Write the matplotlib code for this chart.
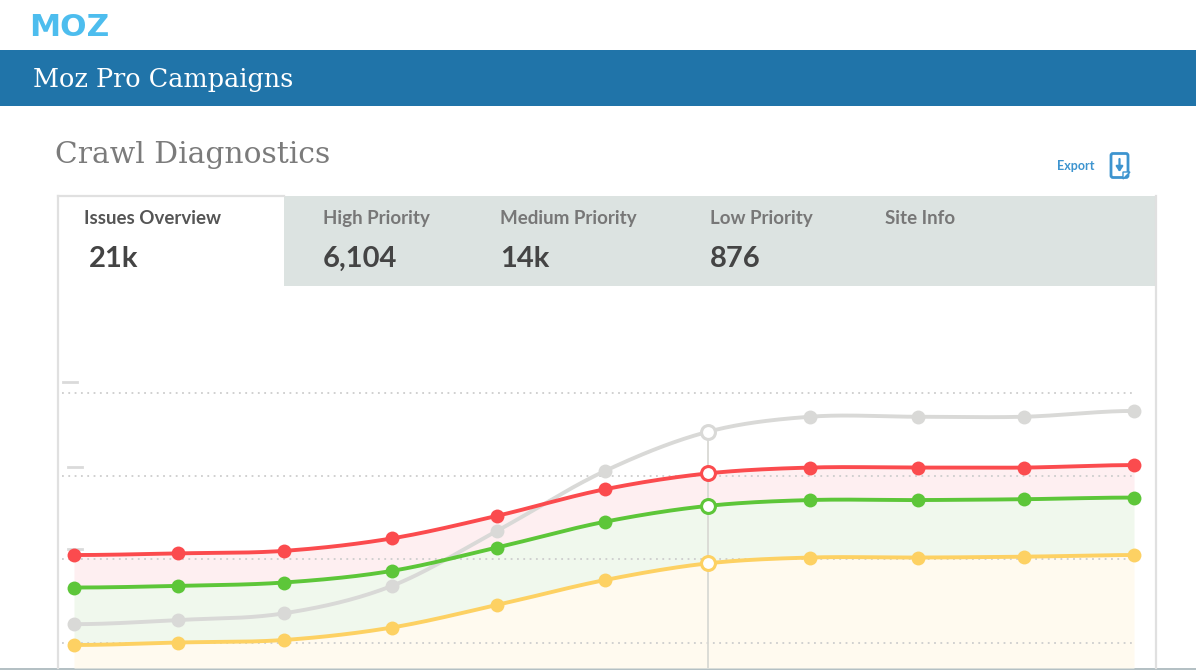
"""
plot.py
-------
Moz Pro Campaigns screen: crawl diagnostics issue counts with tab strip.
Writes: out.png
"""

import matplotlib
matplotlib.use("Agg")
import matplotlib.pyplot as plt
from matplotlib.patches import FancyBboxPatch, Polygon, Rectangle
import numpy as np

W, H = 1196, 670

# data (x in periods, y in grid steps)
periods = [0, 0.98, 1.98, 3, 3.99, 5.01, 5.98, 6.94, 7.96, 8.96, 10]
gray_vals = [0.22, 0.27, 0.35, 0.68, 1.34, 2.06, 2.53, 2.71, 2.71, 2.71, 2.78]
red_vals = [1.05, 1.07, 1.10, 1.25, 1.52, 1.84, 2.03, 2.10, 2.10, 2.10, 2.13]
green_vals = [0.66, 0.68, 0.72, 0.86, 1.14, 1.45, 1.64, 1.71, 1.71, 1.72, 1.74]
yellow_vals = [-0.03, 0.0, 0.03, 0.18, 0.45, 0.75, 0.95, 1.02, 1.02, 1.03, 1.05]
grid_vals = [0, 1, 2, 3]
hover_idx = 6

tab_titles = ["Issues Overview", "High Priority", "Medium Priority", "Low Priority", "Site Info"]
tab_counts = ["21k", "6,104", "14k", "876", ""]

RED = "#fb4b4e"
GREEN = "#5dc639"
YELLOW = "#fdd163"
GRAY = "#d9d9d7"
BLUE = "#2074a9"
LINK = "#3d94cf"

SERIF = "DejaVu Serif"

plt.rcParams["font.family"] = ["Lato", "DejaVu Sans"]


def smooth(x, y, n=30):
    """Cubic hermite through the points, the way the chart rounds its lines."""
    x = np.asarray(x, dtype=float)
    y = np.asarray(y, dtype=float)
    m = np.gradient(y, x)
    m[0] = m[-1] = 0
    xs, ys = [], []
    for i in range(len(x) - 1):
        h = x[i + 1] - x[i]
        t = np.linspace(0, 1, n, endpoint=False)
        ys.append((2*t**3 - 3*t**2 + 1) * y[i] + (t**3 - 2*t**2 + t) * h * m[i]
                  + (-2*t**3 + 3*t**2) * y[i + 1] + (t**3 - t**2) * h * m[i + 1])
        xs.append(x[i] + t * h)
    return np.append(np.concatenate(xs), x[-1]), np.append(np.concatenate(ys), y[-1])


def draw_chrome(fig):
    ax = fig.add_axes([0, 0, 1, 1], zorder=1)
    ax.set_xlim(0, W)
    ax.set_ylim(H, 0)
    ax.axis("off")

    # header
    ax.text(29, 36, "MOZ", color="#4dbdee", fontsize=22.5, fontweight="bold", family="DejaVu Sans",
            va="baseline", ha="left")
    ax.add_patch(Rectangle((0, 50), W, 56, color=BLUE, lw=0))
    ax.text(33, 87, "Moz Pro Campaigns", color="white", fontsize=18.4, family=SERIF, va="baseline")
    ax.text(55, 163, "Crawl Diagnostics", color="#7b7b7b", fontsize=21.4, family=SERIF,
            fontweight="light", va="baseline")

    # export
    ax.text(1057, 165.5, "Export", color=LINK, fontsize=9, fontweight="bold", va="center")
    ax.add_patch(FancyBboxPatch((1111, 153.5), 17, 24, boxstyle="round,pad=0,rounding_size=2",
                                fc="white", ec=LINK, lw=2))
    ax.add_patch(Polygon([(1123, 179), (1130, 172), (1123, 172)], fc="white", ec=LINK, lw=1))
    ax.annotate("", xy=(1119.5, 172), xytext=(1119.5, 159),
                arrowprops=dict(arrowstyle="-|>,head_width=0.2,head_length=0.3", color=LINK, lw=1.6,
                                shrinkA=0, shrinkB=0))

    # panel and tabs
    ax.add_patch(Rectangle((284, 196), 872, 90, color="#dce3e1", lw=0))
    ax.plot([58, 284], [196, 196], color="#e0e0e0", lw=1.6)
    ax.plot([58, 58], [196, 668], color="#e0e0e0", lw=1.6)
    ax.plot([1156, 1156], [196, 668], color="#e0e0e0", lw=1.6)
    ax.add_patch(Rectangle((0, 668), W, 2, color="#b4c0c4", lw=0))

    title_x = [84, 323, 500, 710, 885]
    count_x = [89, 323, 500, 710, 885]
    for i, (title, count) in enumerate(zip(tab_titles, tab_counts)):
        ax.text(title_x[i], 224, title, color="#555555" if i == 0 else "#777777",
                fontsize=13.5, fontweight="bold", va="baseline")
        ax.text(count_x[i], 267, count, color="#444444", fontsize=21, fontweight="bold", va="baseline")

    # blurred axis labels
    for x0, y0 in [(63, 382), (68, 467), (68, 549)]:
        ax.plot([x0, x0 + 14], [y0, y0], color="#dadada", lw=2)


def draw_chart(fig):
    # same pixel frame as the panel body, with data scales set from the grid
    left, right, top, bottom = 58, 1156, 286, 668
    ax = fig.add_axes([left / W, 1 - bottom / H, (right - left) / W, (bottom - top) / H], zorder=2)
    ax.patch.set_alpha(0)
    ax.axis("off")
    ax.set_xlim((left - 74) / 106, (right - 74) / 106)
    ax.set_ylim((642.5 - bottom) / 83.3, (642.5 - top) / 83.3)

    x_gray, y_gray = smooth(periods, gray_vals)
    x_red, y_red = smooth(periods, red_vals)
    x_green, y_green = smooth(periods, green_vals)
    x_yellow, y_yellow = smooth(periods, yellow_vals)

    floor = ax.get_ylim()[0]
    ax.fill_between(x_red, y_red, y_green, color="#feeff1", lw=0, zorder=1)
    ax.fill_between(x_red, y_green, y_yellow, color="#f0f8ed", lw=0, zorder=1)
    ax.fill_between(x_red, y_yellow, floor, color="#fffaef", lw=0, zorder=1)

    ax.hlines(grid_vals, -0.11, 10, color="#cdcdcd", lw=1.3, linestyles=(0, (1, 2.5)), zorder=2)
    ax.vlines(periods[hover_idx], floor, gray_vals[hover_idx], color="#d9d9d4", lw=1.3, zorder=2)

    series = [(x_gray, y_gray, gray_vals, GRAY), (x_red, y_red, red_vals, RED),
              (x_green, y_green, green_vals, GREEN), (x_yellow, y_yellow, yellow_vals, YELLOW)]
    for z, (xs, ys, vals, color) in enumerate(series):
        ax.plot(xs, ys, color=color, lw=2.8, zorder=3 + z, solid_capstyle="round")
        pts = [i for i in range(len(periods)) if i != hover_idx]
        ax.plot([periods[i] for i in pts], [vals[i] for i in pts], "o", color=color, ms=10,
                mew=0, zorder=3 + z)
        ax.plot(periods[hover_idx], vals[hover_idx], "o", mfc="white", mec=color, ms=10, mew=2.2,
                zorder=3 + z)


def main():
    fig = plt.figure(figsize=(W / 100, H / 100), dpi=100, facecolor="white")
    draw_chrome(fig)
    draw_chart(fig)
    fig.savefig("out.png", dpi=100)
    plt.close(fig)


if __name__ == "__main__":
    main()
